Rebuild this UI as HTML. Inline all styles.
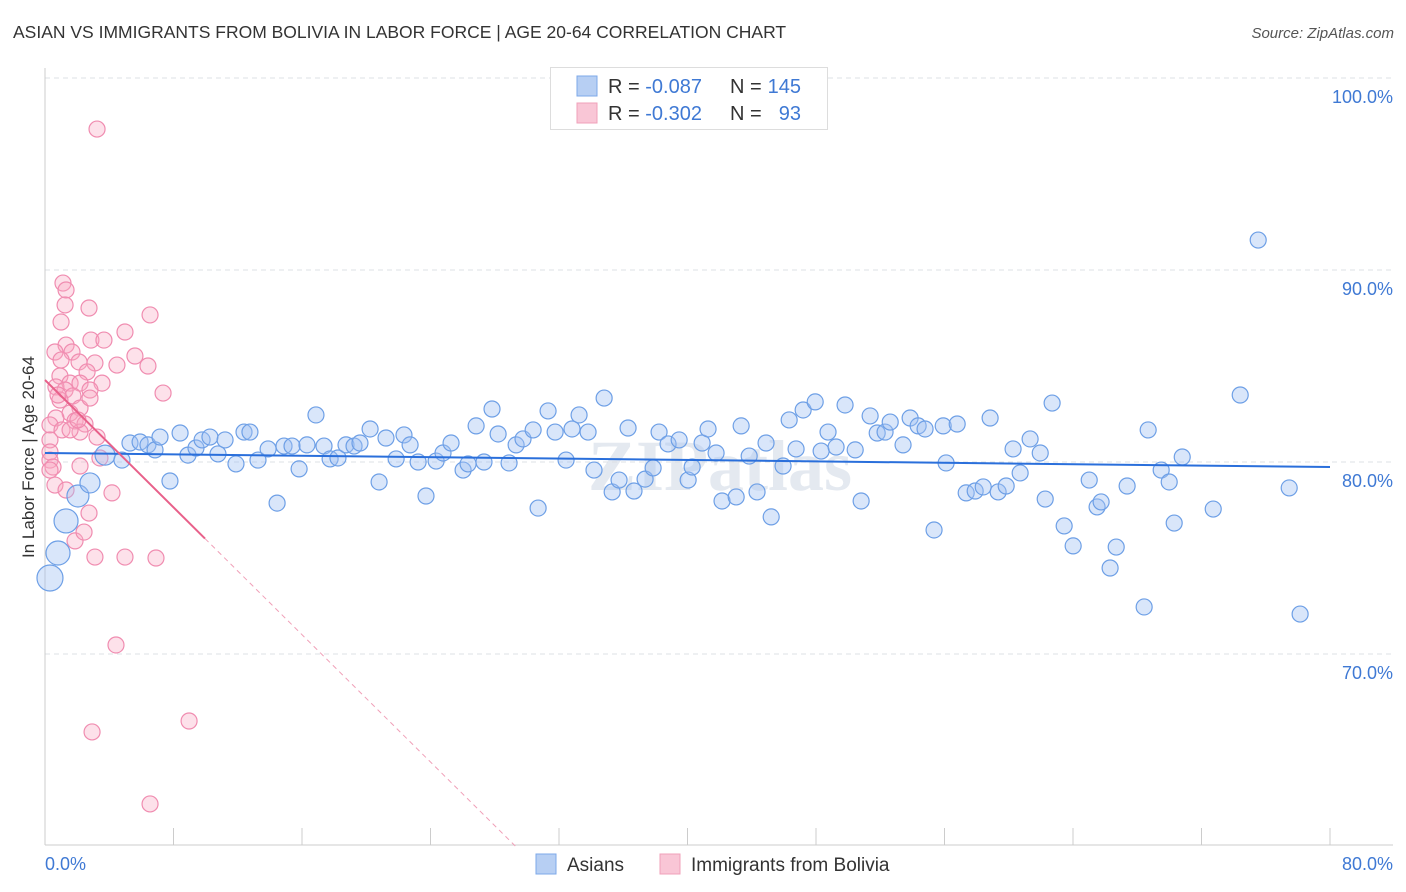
<!DOCTYPE html>
<html><head><meta charset="utf-8"><style>
body{margin:0;background:#fff;font-family:"Liberation Sans",sans-serif;}
#wrap{position:relative;width:1406px;height:892px;overflow:hidden;}
.title{position:absolute;left:13px;top:22px;font-size:17.5px;color:#333;}
.source{position:absolute;right:12px;top:25px;font-size:15px;color:#555;font-style:italic;}
</style></head><body>
<div id="wrap">
<div class="title">ASIAN VS IMMIGRANTS FROM BOLIVIA IN LABOR FORCE | AGE 20-64 CORRELATION CHART</div>
<div class="source">Source: ZipAtlas.com</div>
<svg id="svg" width="1406" height="892" style="position:absolute;left:0;top:0"></svg>
</div>
<script>
const blueX=[.31,.81,1.31,2.05,2.80,3.74,4.79,5.29,5.92,6.41,6.85,7.16,7.78,8.41,8.90,9.40,9.78,10.27,10.77,11.21,11.89,12.39,12.76,13.26,13.89,14.45,14.88,15.38,15.82,16.31,16.87,17.37,17.75,18.24,18.74,19.24,19.61,20.24,20.80,21.23,21.86,22.35,22.73,23.23,23.72,24.35,24.78,25.28,26.03,26.34,26.84,27.33,27.83,28.21,28.89,29.33,29.76,30.39,30.70,31.32,31.76,32.44,32.81,33.25,33.81,34.18,34.81,35.31,35.74,36.30,36.67,37.36,37.86,38.23,38.79,39.48,40.04,40.29,40.91,41.28,41.78,42.15,43.03,43.34,43.84,44.33,44.89,45.21,45.95,46.33,46.76,47.20,47.95,48.32,48.75,49.25,49.81,50.44,50.81,51.37,51.81,52.30,52.62,53.42,53.86,54.36,54.79,55.35,55.92,56.10,56.79,57.35,57.91,58.41,58.84,59.34,59.84,60.27,60.71,61.33,61.96,62.27,62.70,63.45,64.01,65.01,65.50,65.75,66.31,66.69,67.37,68.43,68.68,69.49,69.99,70.30,70.80,72.73,74.41,75.53,77.46,78.14];
const blueY=[73.96,75.26,76.93,78.23,78.91,80.36,80.10,80.99,81.04,80.89,80.63,81.30,79.01,81.51,80.36,80.73,81.15,81.30,80.42,81.15,79.90,81.56,81.56,80.10,80.68,77.86,80.83,80.83,79.64,80.89,82.45,80.83,80.16,80.21,80.89,80.83,80.99,81.72,78.96,81.25,80.16,81.41,80.89,80.00,78.23,80.05,80.47,80.99,79.58,79.90,81.88,80.00,82.76,81.46,79.95,80.89,81.20,81.67,77.60,82.66,81.56,80.10,81.72,82.45,81.56,79.58,83.33,78.44,79.06,81.77,78.49,79.11,79.69,81.56,80.94,81.15,79.06,79.74,80.99,81.72,80.47,77.97,78.18,81.88,80.31,78.44,80.99,77.14,79.79,82.19,80.68,82.71,83.13,80.57,81.56,80.78,82.97,80.63,77.97,82.40,81.51,81.56,82.08,80.89,82.29,81.88,81.72,76.46,81.88,79.95,81.98,78.39,78.49,78.70,82.29,78.44,78.75,80.68,79.43,81.20,80.47,78.07,83.07,76.67,75.63,79.06,77.66,77.92,74.48,75.57,78.75,72.45,81.67,79.58,78.96,76.82,80.26,77.55,83.49,91.56,78.65,72.08];
const blueR=[13,12,12,11,10,10];
const pinkX=[3.24,1.12,1.31,1.25,2.74,1.00,6.54,4.98,2.86,3.67,1.31,.62,1.68,5.60,1.00,2.12,3.11,4.48,6.41,2.62,.93,1.56,2.18,3.55,.68,1.25,2.80,7.35,1.74,.93,2.18,1.56,.68,1.87,2.49,2.18,3.24,.31,.31,.31,.31,.50,2.18,3.42,.62,1.31,4.17,2.74,1.87,2.43,3.11,4.98,6.91,4.42,8.97,2.93,6.54,.31,.81,1.06,1.56,2.05,2.80];
const pinkY=[97.34,89.32,88.96,88.18,88.02,87.29,87.66,86.77,86.35,86.35,86.09,85.73,85.73,85.52,85.31,85.21,85.16,85.05,85.00,84.69,84.48,84.11,84.11,84.11,83.91,83.75,83.75,83.59,83.44,83.23,82.81,82.55,82.29,82.14,81.98,81.56,81.30,81.93,81.15,80.52,80.10,79.74,79.79,80.21,78.80,78.54,78.39,77.34,75.89,76.35,75.05,75.05,75.00,70.47,66.51,65.94,62.19,79.58,83.49,81.67,81.67,82.19,83.33];
const blueTrend=[80.47,79.74]; // y at x=0 and x=80
const pinkTrend=[84.27,-0.829]; // intercept, slope
const pinkSolidEnd=9.96;
const yTicks=[100,90,80,70];
const yTickLabels=["100.0%","90.0%","80.0%","70.0%"];

const X0=45,X1=1330,Ytop=78;
function sx(v){return X0+(v/80)*(X1-X0);}
function sy(v){return 462-(v-80)*19.2;}
const svg=document.getElementById('svg');
const NS='http://www.w3.org/2000/svg';
function mk(t,a,p){const e=document.createElementNS(NS,t);for(const k in a)e.setAttribute(k,a[k]);(p||svg).appendChild(e);return e;}

// watermark
let wm=mk('text',{x:720,y:490,'text-anchor':'middle','font-size':72,'font-family':'Liberation Serif, serif',fill:'#e4e9f0','font-weight':'bold'});
wm.textContent='ZIPatlas';



// gridlines + labels
yTicks.forEach((t,i)=>{
 let g=mk('line',{x1:X0,x2:1393,y1:sy(t),y2:sy(t),stroke:'#dde0e4','stroke-dasharray':'5,4','stroke-width':1});
 
 
 let l=mk('text',{x:1393,y:sy(t)+25,'text-anchor':'end','font-size':18,fill:'#3f79d4'});
 l.textContent=yTickLabels[i];
 
 
});
// axes
let ax=mk('line',{x1:X0,x2:1393,y1:845,y2:845,stroke:'#ccc','stroke-width':1});


let ay=mk('line',{x1:X0,x2:X0,y1:68,y2:845,stroke:'#ccc','stroke-width':1});


for(let i=0;i<=10;i++){
 let t=mk('line',{x1:sx(i*8),x2:sx(i*8),y1:828,y2:845,stroke:'#ccc'});
 
 
}
let xl0=mk('text',{x:45,y:870,'font-size':18,fill:'#3f79d4'});xl0.textContent='0.0%';


let xl1=mk('text',{x:1393,y:870,'text-anchor':'end','font-size':18,fill:'#3f79d4'});xl1.textContent='80.0%';


let yt=mk('text',{x:0,y:0,'font-size':17,fill:'#333','text-anchor':'middle',transform:'translate(34,457) rotate(-90)'});
yt.textContent='In Labor Force | Age 20-64';



// points
pinkX.forEach((x,i)=>{
 let c=mk('circle',{cx:sx(x),cy:sy(pinkY[i]),r:8,fill:'rgba(248,170,195,0.35)',stroke:'#f08cb0','stroke-width':1.2});
 
 
});
blueX.forEach((x,i)=>{
 let c=mk('circle',{cx:sx(x),cy:sy(blueY[i]),r:blueR[i]||8,fill:'rgba(160,192,242,0.4)',stroke:'#6d9fe6','stroke-width':1.2});
 
 
});
// trend lines
let bl=mk('line',{x1:sx(0),y1:sy(blueTrend[0]),x2:sx(80),y2:sy(blueTrend[1]),stroke:'#2a6fdb','stroke-width':2});


const pEnd=(60-pinkTrend[0])/pinkTrend[1];
let pl=mk('line',{x1:sx(0),y1:sy(pinkTrend[0]),x2:sx(pinkSolidEnd),y2:sy(pinkTrend[0]+pinkTrend[1]*pinkSolidEnd),stroke:'#e8608a','stroke-width':2});


let pd=mk('line',{x1:sx(pinkSolidEnd),y1:sy(pinkTrend[0]+pinkTrend[1]*pinkSolidEnd),x2:sx(pEnd),y2:sy(60),stroke:'#f0a0b8','stroke-width':1,'stroke-dasharray':'5,4'});



// top legend
let lg=mk('g',{});


mk('rect',{x:550.5,y:67.5,width:277,height:62,fill:'#fff',stroke:'#ddd'},lg);
mk('rect',{x:577,y:76,width:20,height:20,fill:'#b7cff3',stroke:'#7ea8e8'},lg);
mk('rect',{x:577,y:103,width:20,height:20,fill:'#f9c6d6',stroke:'#f0a0ba'},lg);
[[93,'-0.087','145'],[120,'-0.302','  93']].forEach(r=>{
 let t=mk('text',{x:608,y:r[0],'font-size':20,fill:'#333'},lg);
 t.innerHTML='R = <tspan fill="#3f79d4">'+r[1]+'</tspan>';
 let n=mk('text',{x:730,y:r[0],'font-size':20,fill:'#333','xml:space':'preserve'},lg);
 n.innerHTML='N = <tspan fill="#3f79d4" x="801" text-anchor="end">'+r[2].trim()+'</tspan>';
});
// bottom legend
let bg=mk('g',{});


mk('rect',{x:536,y:854,width:20,height:20,fill:'#b7cff3',stroke:'#7ea8e8'},bg);
let t1=mk('text',{x:567,y:871,'font-size':19,fill:'#333'},bg);t1.textContent='Asians';
mk('rect',{x:660,y:854,width:20,height:20,fill:'#f9c6d6',stroke:'#f0a0ba'},bg);
let t2=mk('text',{x:691,y:871,'font-size':19,fill:'#333'},bg);t2.textContent='Immigrants from Bolivia';
</script>
</body></html>
